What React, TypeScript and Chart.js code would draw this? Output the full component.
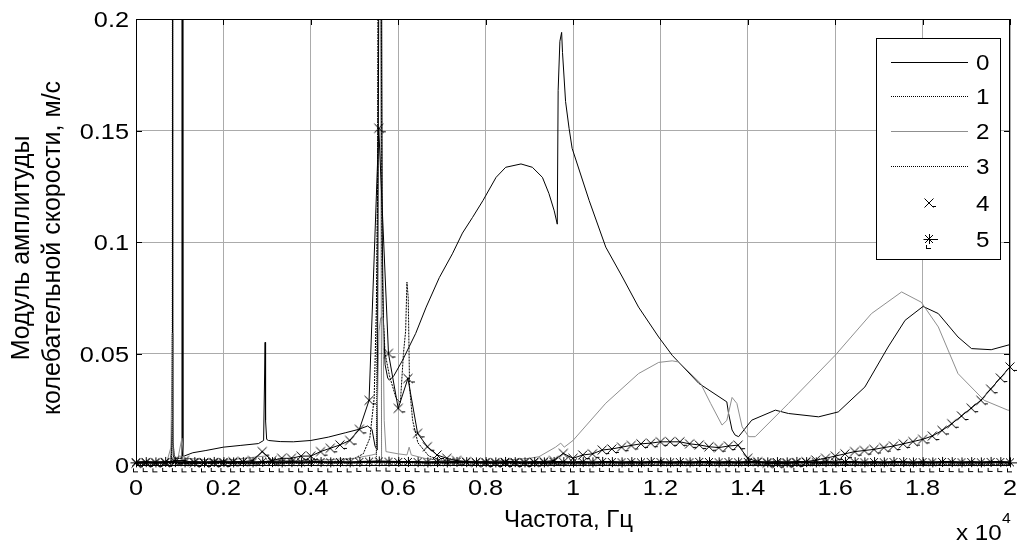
import React, { useEffect, useRef } from "react";
import { Chart, registerables } from "chart.js";

Chart.register(...registerables);

const W = 1017;
const H = 543;
const FONT = "'Liberation Sans', Arial, sans-serif";

// ---- axes ----
const xTickValues = [0, 2000, 4000, 6000, 8000, 10000, 12000, 14000, 16000, 18000, 20000];
const xTickLabels = ["0", "0.2", "0.4", "0.6", "0.8", "1", "1.2", "1.4", "1.6", "1.8", "2"];
const yTickValues = [0, 0.05, 0.1, 0.15, 0.2];
const yTickLabels = ["0", "0.05", "0.1", "0.15", "0.2"];
const xTitle = "Частота, Гц";
const yTitleLines = ["Модуль амплитуды", "колебательной скорости, м/с"];
const xExponentBase = "x 10";
const xExponent = "4";
const seriesNames = ["0", "1", "2", "3", "4", "5"];

// ---- series 0 (solid black) ----
const s0Freq = [0, 300, 600, 800, 825, 832, 838, 844, 852, 880, 1000, 1040, 1052, 1060, 1072, 1100, 1300, 1600, 2000, 2400, 2800, 2920, 2955, 2965, 2990, 3030, 3300, 3600, 4000, 4400, 4800, 5100, 5300, 5400, 5470, 5520, 5545, 5570, 5610, 5635, 5660, 5700, 5760, 5800, 5900, 6100, 6400, 6640, 6940, 7240, 7470, 7700, 7940, 8240, 8460, 8810, 9070, 9300, 9450, 9570, 9640, 9660, 9700, 9740, 9760, 9830, 9910, 9980, 10370, 10750, 11130, 11500, 11960, 12270, 12880, 13520, 13560, 13640, 13710, 13790, 14090, 14630, 14930, 15620, 16070, 16680, 17210, 17600, 18010, 18360, 18810, 19120, 19570, 20000];
const s0Vals = [0.0008, 0.001, 0.001, 0.0015, 0.02, 0.3, 0.3, 0.02, 0.004, 0.003, 0.003, 0.003, 0.3, 0.3, 0.004, 0.004, 0.0055, 0.0065, 0.008, 0.0088, 0.0096, 0.011, 0.055, 0.02, 0.0115, 0.011, 0.0105, 0.0104, 0.011, 0.0125, 0.0145, 0.016, 0.0175, 0.016, 0.0085, 0.0067, 0.15, 0.3, 0.3, 0.104, 0.066, 0.045, 0.039, 0.038, 0.04, 0.047, 0.059, 0.0708, 0.084, 0.0947, 0.104, 0.111, 0.1186, 0.129, 0.1335, 0.135, 0.1335, 0.129, 0.1217, 0.114, 0.108, 0.168, 0.19, 0.194, 0.185, 0.163, 0.151, 0.142, 0.1186, 0.0977, 0.0843, 0.0708, 0.0574, 0.0492, 0.0366, 0.0283, 0.0231, 0.0157, 0.0134, 0.0127, 0.0201, 0.0246, 0.0231, 0.0216, 0.0238, 0.035, 0.0529, 0.0649, 0.0711, 0.0679, 0.0574, 0.0522, 0.0517, 0.054];

// ---- series 1 (dotted) ----
const s1Freq = [0, 2000, 3000, 4000, 4500, 5000, 5200, 5350, 5450, 5500, 5530, 5550, 5600, 5630, 5660, 5700, 5800, 5950, 6050, 6120, 6170, 6200, 6230, 6260, 6330, 6450, 6700, 7000, 8000, 10000, 15000, 20000];
const s1Vals = [0.0005, 0.0008, 0.001, 0.0012, 0.0015, 0.003, 0.005, 0.012, 0.03, 0.07, 0.127, 0.3, 0.3, 0.09, 0.065, 0.05, 0.04, 0.03, 0.028, 0.05, 0.06, 0.082, 0.075, 0.035, 0.02, 0.01, 0.004, 0.002, 0.0008, 0.0005, 0.0005, 0.0005];

// ---- series 2 (grey) ----
const s2Freq = [0, 700, 800, 830, 845, 880, 960, 1050, 1100, 2000, 2950, 3000, 4000, 5000, 5400, 5500, 5560, 5600, 5650, 5680, 5720, 6000, 6200, 6250, 6300, 6600, 7000, 8000, 9000, 9220, 9600, 9720, 9800, 10000, 10750, 11500, 11960, 12270, 12420, 12920, 13150, 13410, 13520, 13640, 13750, 13870, 14020, 14170, 14930, 16000, 16830, 17520, 17970, 18360, 18810, 19410, 19950, 20000];
const s2Vals = [0.0005, 0.001, 0.008, 0.059, 0.01, 0.004, 0.003, 0.012, 0.003, 0.002, 0.004, 0.002, 0.002, 0.003, 0.0045, 0.005, 0.06, 0.066, 0.066, 0.02, 0.006, 0.005, 0.0045, 0.008, 0.0045, 0.003, 0.002, 0.0015, 0.003, 0.0037, 0.008, 0.0098, 0.008, 0.011, 0.0277, 0.041, 0.046, 0.0467, 0.0462, 0.0366, 0.0276, 0.0179, 0.02, 0.0303, 0.0276, 0.0171, 0.0127, 0.0127, 0.0276, 0.0492, 0.0679, 0.0776, 0.073, 0.0619, 0.041, 0.029, 0.0246, 0.0245];

// ---- series 3 (dotted) ----
const s3Freq = [0, 800, 828, 835, 841, 848, 900, 5500, 5560, 5590, 5620, 5680, 20000];
const s3Vals = [0.0003, 0.0004, 0.01, 0.3, 0.3, 0.01, 0.0005, 0.001, 0.3, 0.3, 0.001, 0.0005, 0.0003];

// ---- series 4 (x markers), one value per marker, 91 markers over 0..20000 Hz ----
const markerCount = 91;
const s4Vals = [
  0.0008, 0.001, 0.001, 0.001, 0.002, 0.002, 0.001, 0.001, 0.001, 0.001,
  0.0015, 0.0015, 0.002, 0.006, 0.002, 0.003, 0.003, 0.004, 0.004, 0.006,
  0.0075, 0.009, 0.011, 0.016, 0.029, 0.151, 0.05, 0.0254, 0.0388, 0.0142,
  0.0082, 0.0045, 0.003, 0.002, 0.0015, 0.0012, 0.001, 0.001, 0.001, 0.001,
  0.001, 0.0012, 0.0015, 0.002, 0.0052, 0.003, 0.0045, 0.005, 0.0067, 0.0072,
  0.008, 0.0088, 0.0095, 0.0098, 0.0104, 0.0104, 0.0104, 0.0095, 0.009, 0.0082,
  0.0078, 0.0085, 0.0089, 0.003, 0.0015, 0.0008, 0.0007, 0.0008, 0.001, 0.0015,
  0.0022, 0.003, 0.004, 0.005, 0.006, 0.0065, 0.007, 0.0078, 0.0085, 0.0095,
  0.0105, 0.0115, 0.013, 0.0155, 0.0185, 0.022, 0.0255, 0.029, 0.034, 0.039,
  0.044,
];

// ---- series 5 (* markers) ----
const s5Vals = [
  0.0012, 0.0013, 0.0012, 0.0014, 0.0013, 0.0012, 0.0013, 0.0012, 0.0014, 0.0013,
  0.0012, 0.0013, 0.0012, 0.0014, 0.0013, 0.0012, 0.0013, 0.0012, 0.0014, 0.0013,
  0.0012, 0.0013, 0.0012, 0.0014, 0.0015, 0.0016, 0.0015, 0.0014, 0.0014, 0.0013,
  0.0012, 0.0013, 0.0012, 0.0014, 0.0013, 0.0012, 0.0013, 0.0012, 0.0014, 0.0013,
  0.0012, 0.0013, 0.0012, 0.0014, 0.0013, 0.0012, 0.0013, 0.0012, 0.0014, 0.0013,
  0.0012, 0.0013, 0.0012, 0.0014, 0.0013, 0.0012, 0.0013, 0.0012, 0.0014, 0.0013,
  0.0012, 0.0013, 0.0012, 0.0014, 0.0013, 0.0012, 0.0013, 0.0012, 0.0014, 0.0013,
  0.0012, 0.0013, 0.0012, 0.0014, 0.0013, 0.0012, 0.0013, 0.0012, 0.0014, 0.0013,
  0.0012, 0.0013, 0.0012, 0.0014, 0.0013, 0.0012, 0.0013, 0.0012, 0.0014, 0.0013,
  0.0012,
];

const markerFreqs = Array.from({ length: markerCount }, (_, i) => (i * 20000) / (markerCount - 1));

function pairs(xs: number[], ys: number[]) {
  return xs.map((x, i) => ({ x, y: ys[i] }));
}

const GRID = "#ababab";
const GREY = "#8f8f8f";

function seg(ctx: CanvasRenderingContext2D, x1: number, y1: number, x2: number, y2: number) {
  ctx.moveTo(x1, y1);
  ctx.lineTo(x2, y2);
}

function makeMarker(kind: "x" | "star"): HTMLCanvasElement {
  const c = document.createElement("canvas");
  c.width = 28;
  c.height = 28;
  const ctx = c.getContext("2d")!;
  ctx.strokeStyle = "#000";
  ctx.lineWidth = 1;
  const cx = 14, cy = 14;
  ctx.beginPath();
  if (kind === "x") {
    seg(ctx, cx - 4.5, cy - 4.5, cx + 4.5, cy + 4.5);
    seg(ctx, cx - 4.5, cy + 4.5, cx + 4.5, cy - 4.5);
    seg(ctx, cx + 3, cy + 3.5, cx + 7, cy + 3.5);
  } else {
    seg(ctx, cx - 5.5, cy + 0.5, cx + 5.5, cy + 0.5);
    seg(ctx, cx + 0.5, cy - 5, cx + 0.5, cy + 5);
    seg(ctx, cx - 4, cy - 4, cx + 4, cy + 4);
    seg(ctx, cx - 4, cy + 4, cx + 4, cy - 4);
    seg(ctx, cx + 5, cy + 0.5, cx + 9, cy + 0.5);
    seg(ctx, cx - 2.5, cy + 6, cx - 2.5, cy + 10);
    seg(ctx, cx - 2.5, cy + 9.5, cx + 2, cy + 9.5);
  }
  ctx.stroke();
  return c;
}

function drawText(
  ctx: CanvasRenderingContext2D,
  text: string,
  x: number,
  y: number,
  size: number,
  sx: number,
  align: CanvasTextAlign,
  rotate = 0
) {
  ctx.save();
  ctx.font = `${size}px ${FONT}`;
  ctx.fillStyle = "#000";
  ctx.textAlign = align;
  ctx.textBaseline = "alphabetic";
  ctx.translate(x, y);
  if (rotate) ctx.rotate(rotate);
  ctx.scale(sx, 1);
  ctx.fillText(text, 0, 0);
  ctx.restore();
}

function makeFramePlugin(markers: { x: HTMLCanvasElement; star: HTMLCanvasElement }) {
  return {
    id: "frame",
    beforeDraw(chart: any) {
      const ctx = chart.ctx;
      ctx.save();
      ctx.fillStyle = "#fff";
      ctx.fillRect(0, 0, chart.width, chart.height);
      ctx.restore();
    },
    afterDraw(chart: any) {
      const { ctx, chartArea, scales } = chart;
      const { left, top, right, bottom } = chartArea;
      ctx.save();
      ctx.strokeStyle = "#000";
      ctx.lineWidth = 1;
      ctx.setLineDash([]);
      ctx.strokeRect(Math.round(left) + 0.5, Math.round(top) + 0.5, Math.round(right - left) - 1, Math.round(bottom - top));
      // inward ticks
      ctx.beginPath();
      xTickValues.forEach((v) => {
        const px = Math.round(scales.x.getPixelForValue(v)) + 0.5;
        seg(ctx, px, bottom, px, bottom - 6);
        seg(ctx, px, top, px, top + 6);
      });
      yTickValues.forEach((v) => {
        const py = Math.round(scales.y.getPixelForValue(v)) + 0.5;
        seg(ctx, left, py, left + 6, py);
        seg(ctx, right, py, right - 6, py);
      });
      ctx.stroke();

      // tick labels
      xTickValues.forEach((v, i) => {
        drawText(ctx, xTickLabels[i], scales.x.getPixelForValue(v), 495, 22, 1.15, "center");
      });
      yTickValues.forEach((v, i) => {
        drawText(ctx, yTickLabels[i], 129, scales.y.getPixelForValue(v) + 8, 22, 1.15, "right");
      });

      // legend
      const lx = 876, ly = 38, lw = 124, lh = 221;
      ctx.fillStyle = "#fff";
      ctx.fillRect(lx, ly, lw, lh);
      ctx.strokeRect(lx + 0.5, ly + 0.5, lw, lh);
      const rowY = [62, 96, 131, 166, 203, 239];
      rowY.forEach((ry, i) => {
        ctx.save();
        const y0 = ry + 0.5;
        if (i <= 3) {
          ctx.strokeStyle = i === 2 ? GREY : "#000";
          ctx.setLineDash(i === 1 || i === 3 ? [1, 1] : []);
          ctx.beginPath();
          seg(ctx, 891, y0, 968, y0);
          ctx.stroke();
        } else {
          const m = i === 4 ? markers.x : markers.star;
          ctx.drawImage(m, 929 - m.width / 2, ry - m.height / 2);
        }
        ctx.restore();
        drawText(ctx, seriesNames[i], 976, ry + 8, 22, 1.1, "left");
      });

      // axis titles
      drawText(ctx, xTitle, 504, 527, 24, 1, "left");
      const cy = 248;
      drawText(ctx, yTitleLines[0], 29, cy, 25, 1, "center", -Math.PI / 2);
      drawText(ctx, yTitleLines[1], 60, cy, 25, 1, "center", -Math.PI / 2);
      // exponent
      drawText(ctx, xExponentBase, 956, 540, 22, 1.1, "left");
      drawText(ctx, xExponent, 1002, 523, 15, 1.05, "left");
      ctx.restore();
    },
  };
}

export default function App() {
  const ref = useRef<HTMLCanvasElement | null>(null);
  useEffect(() => {
    if (!ref.current) return;
    const markers = { x: makeMarker("x"), star: makeMarker("star") };
    const chart = new Chart(ref.current, {
      type: "line",
      data: {
        datasets: [
          { label: seriesNames[0], data: pairs(s0Freq, s0Vals), borderColor: "#000", borderWidth: 1, pointRadius: 0, tension: 0, order: 5 },
          { label: seriesNames[1], data: pairs(s1Freq, s1Vals), borderColor: "#000", borderWidth: 1, borderDash: [2, 1], pointRadius: 0, tension: 0, order: 4 },
          { label: seriesNames[2], data: pairs(s2Freq, s2Vals), borderColor: GREY, borderWidth: 1, pointRadius: 0, tension: 0, order: 3 },
          { label: seriesNames[3], data: pairs(s3Freq, s3Vals), borderColor: "#000", borderWidth: 1, borderDash: [1, 1], pointRadius: 0, tension: 0, order: 2 },
          { label: seriesNames[4], data: pairs(markerFreqs, s4Vals), borderColor: "#000", borderWidth: 1, pointStyle: markers.x, pointRadius: 5, tension: 0, clip: false, order: 1 },
          { label: seriesNames[5], data: pairs(markerFreqs, s5Vals), borderColor: "#000", borderWidth: 2, pointStyle: markers.star, pointRadius: 5, tension: 0, clip: false, order: 0 },
        ] as any,
      },
      options: {
        responsive: false,
        animation: false,
        devicePixelRatio: 1,
        layout: { padding: { left: 0, right: 5, top: 19, bottom: 0 } },
        plugins: { legend: { display: false }, tooltip: { enabled: false } },
        scales: {
          x: {
            type: "linear",
            min: 0,
            max: 20000,
            afterFit: (s: any) => {
              s.height = 78;
              s.paddingLeft = 0;
              s.paddingRight = 0;
            },
            afterBuildTicks: (s: any) => {
              s.ticks = xTickValues.map((v) => ({ value: v }));
            },
            ticks: { display: false },
            grid: { color: GRID, drawTicks: false },
            border: { display: false },
          },
          y: {
            type: "linear",
            min: 0,
            max: 0.2,
            afterFit: (s: any) => {
              s.width = 136;
              s.paddingTop = 0;
              s.paddingBottom = 0;
            },
            afterBuildTicks: (s: any) => {
              s.ticks = yTickValues.map((v) => ({ value: v }));
            },
            ticks: { display: false },
            grid: { color: GRID, drawTicks: false },
            border: { display: false },
          },
        },
      } as any,
      plugins: [makeFramePlugin(markers)],
    });
    return () => chart.destroy();
  }, []);
  return (
    <div style={{ position: "fixed", left: 0, top: 0, width: W, height: H, background: "#fff" }}>
      <canvas ref={ref} width={W} height={H} style={{ width: W, height: H, display: "block" }} />
    </div>
  );
}
